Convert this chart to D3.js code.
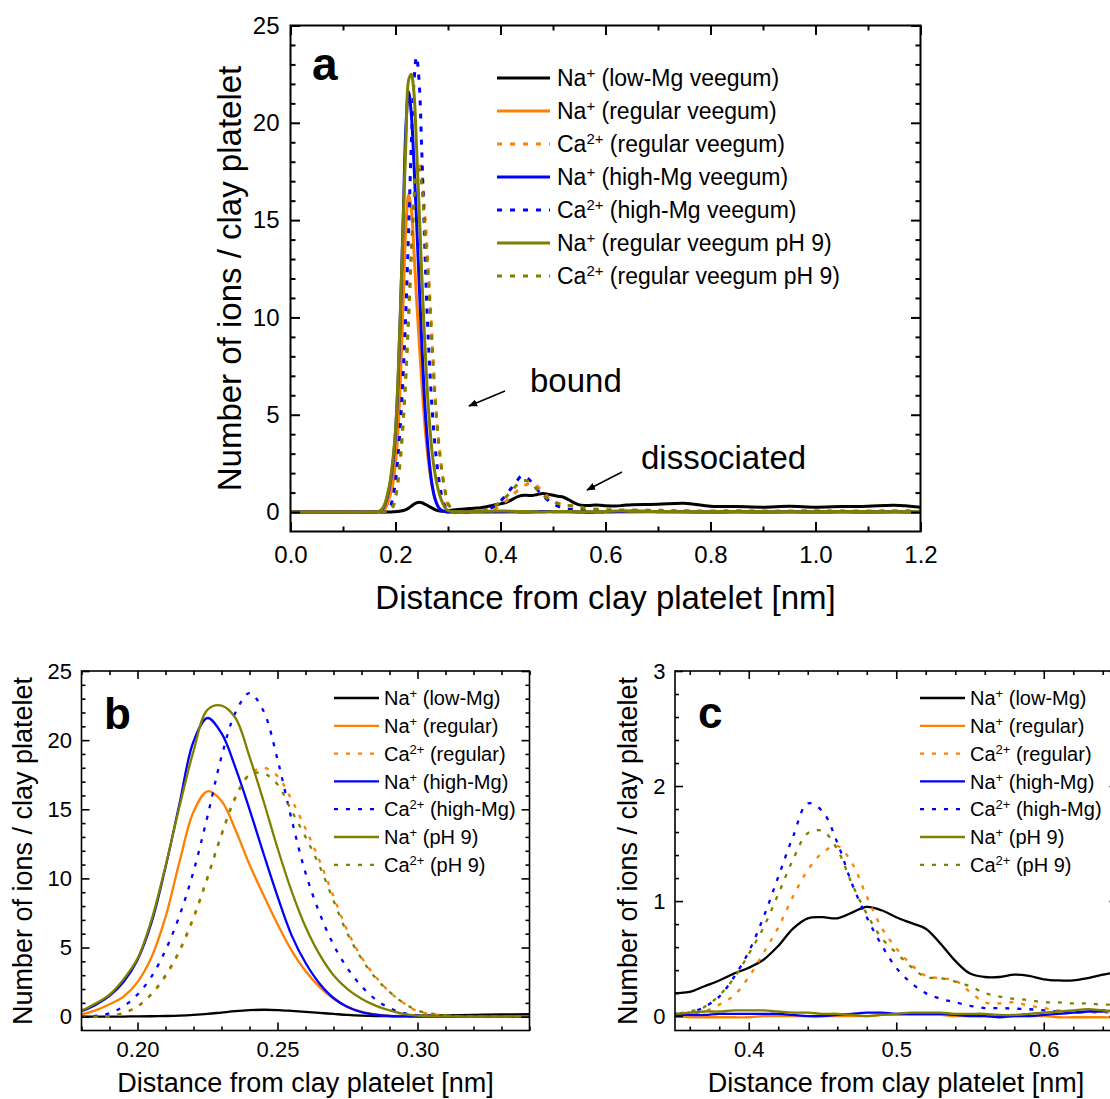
<!DOCTYPE html>
<html>
<head>
<meta charset="utf-8">
<script src="https://cdn.jsdelivr.net/npm/d3@7"></script>
<style>
  body { margin: 0; background: #fff; }
</style>
</head>
<body>
<svg id="chart" width="1110" height="1099"></svg>
<script>
// distance from clay platelet [nm]
const xs = [0, 0.05, 0.10, 0.15, 0.17, 0.175,
  0.18, 0.185, 0.19, 0.195, 0.20, 0.205, 0.21, 0.215, 0.22, 0.225, 0.23, 0.235, 0.24, 0.245,
  0.25, 0.255, 0.26, 0.265, 0.27, 0.275, 0.28, 0.285, 0.29, 0.295, 0.30,
  0.31, 0.32, 0.33, 0.34, 0.35, 0.36, 0.37, 0.38, 0.39, 0.40, 0.41, 0.42, 0.43, 0.44, 0.45,
  0.46, 0.47, 0.48, 0.49, 0.50, 0.51, 0.52, 0.53, 0.54, 0.55, 0.56, 0.57, 0.58, 0.59, 0.60,
  0.61, 0.62, 0.63, 0.64, 0.65,
  0.70, 0.75, 0.80, 0.85, 0.90, 0.95, 1.00, 1.05, 1.10, 1.15, 1.20];

// number of ions / clay platelet
const naLowMg = [0, 0, 0, 0, 0, 0,
  0, 0, 0, 0.01, 0.02, 0.03, 0.05, 0.08, 0.13, 0.2, 0.3, 0.4, 0.47, 0.5, 0.48, 0.42, 0.35, 0.27, 0.2, 0.13, 0.08, 0.05, 0.04, 0.05, 0.07,
  0.1, 0.13, 0.16, 0.18, 0.2, 0.21, 0.26, 0.31, 0.37, 0.42, 0.49, 0.61, 0.76, 0.85, 0.86, 0.85, 0.9, 0.95, 0.92, 0.86,
  0.81, 0.76, 0.63, 0.48, 0.37, 0.34, 0.34, 0.36, 0.35, 0.32, 0.31, 0.31, 0.33, 0.36, 0.38,
  0.4, 0.45, 0.3, 0.28, 0.25, 0.3, 0.25, 0.28, 0.3, 0.35, 0.25];
const naRegular = [0, 0, 0, 0, 0.02, 0.06,
  0.17, 0.45, 0.9, 1.45, 2.5, 4.3, 7.2, 11.2, 14.8, 16.3, 15.6, 13.5, 11.0, 8.8, 6.7, 4.8, 3.3, 2.15, 1.3, 0.72, 0.36, 0.16, 0.06, 0.02, 0,
  0, 0, 0, 0, 0, -0.01, -0.01, -0.01, -0.01, -0.01, 0, 0, 0, 0, 0, 0, 0, 0, 0.01, 0.01,
  0.01, 0.01, 0.01, 0, 0, 0, 0, 0, 0, 0, -0.01, -0.01, -0.01, -0.01, -0.01,
  0, 0, 0, 0, 0, 0, 0, 0, 0, 0, 0];
const caRegular = [0, 0, 0, 0, 0, 0,
  0, 0, 0.05, 0.25, 0.72, 1.6, 2.9, 4.7, 7.1, 10.0, 13.1, 15.8, 17.5, 18.0, 17.4, 15.7, 13.6, 11.3, 8.7, 6.2, 4.3, 2.9, 1.8, 1.0, 0.4,
  0.08, 0.01, 0, 0, 0, 0.01, 0.04, 0.1, 0.18, 0.34, 0.55, 0.77, 1.04, 1.27, 1.42, 1.48, 1.33, 1.04, 0.77, 0.59,
  0.45, 0.35, 0.33, 0.31, 0.21, 0.12, 0.11, 0.12, 0.09, 0.07, 0.05, 0.035, 0.03, 0.03, 0.03,
  0.04, 0.03, 0.02, 0.03, 0.02, 0.02, 0.03, 0.02, 0.02, 0.03, 0.02];
const naHighMg = [0, 0, 0, 0, 0.04, 0.15,
  0.4, 0.85, 1.5, 2.5, 4.1, 6.8, 10.8, 15.4, 19.9, 21.6, 20.5, 18.0, 15.0, 11.8, 8.7, 5.9, 3.9, 2.4, 1.35, 0.7, 0.33, 0.14, 0.05, 0.02, 0,
  0, 0, 0, 0.01, 0.01, 0.01, 0.01, 0.02, 0.02, 0.02, 0.02, 0.02, 0.01, 0, 0, 0.01, 0.02, 0.03, 0.03, 0.02,
  0.02, 0.02, 0.02, 0.01, 0, 0, -0.01, 0, 0, 0.01, 0.02, 0.03, 0.04, 0.04, 0.05,
  0.02, 0.01, 0, 0.01, 0, 0.01, 0, 0.01, 0, 0.01, 0];
const caHighMg = [0, 0, 0, 0, 0, 0,
  0, 0.05, 0.25, 0.75, 1.6, 2.9, 4.8, 7.3, 10.5, 14.5, 18.8, 22.0, 23.4, 22.1, 18.6, 14.3, 10.4, 7.5, 5.2, 3.5, 2.2, 1.25, 0.62, 0.27, 0.1,
  0.02, 0, 0, 0.01, 0.02, 0.03, 0.08, 0.17, 0.34, 0.56, 0.86, 1.21, 1.56, 1.85, 1.78, 1.51, 1.15, 0.86, 0.62, 0.42,
  0.29, 0.2, 0.15, 0.12, 0.09, 0.07, 0.07, 0.065, 0.06, 0.05, 0.04, 0.03, 0.04, 0.05, 0.06,
  0.05, 0.04, 0.03, 0.04, 0.03, 0.03, 0.04, 0.03, 0.03, 0.04, 0.03];
const naPH9 = [0, 0, 0, 0, 0.05, 0.18,
  0.45, 0.95, 1.6, 2.7, 4.2, 7.0, 10.9, 15.2, 19.2, 22.2, 22.5, 21.6, 18.8, 15.6, 12.2, 9.1, 6.5, 4.5, 3.0, 2.0, 1.3, 0.8, 0.45, 0.2, 0.08,
  0.02, 0.01, 0.01, 0.02, 0.02, 0.03, 0.04, 0.04, 0.05, 0.05, 0.05, 0.04, 0.03, 0.03, 0.02, 0.02, 0.01, 0, 0.01, 0.02,
  0.03, 0.03, 0.03, 0.02, 0.02, 0.02, 0.01, 0.01, 0.02, 0.03, 0.04, 0.05, 0.06, 0.05, 0.04,
  0.03, 0.02, 0.02, 0.03, 0.02, 0.02, 0.02, 0.03, 0.02, 0.02, 0.02];
const caPH9 = [0, 0, 0, 0, 0, 0,
  0, 0, 0.06, 0.28, 0.75, 1.65, 3.0, 4.8, 7.2, 10.1, 13.2, 15.9, 17.5, 17.6, 16.8, 14.9, 13.0, 10.9, 8.4, 6.0, 4.2, 2.8, 1.8, 1.0, 0.45,
  0.1, 0.02, 0.01, 0.01, 0.02, 0.04, 0.08, 0.18, 0.33, 0.54, 0.77, 1.06, 1.36, 1.59, 1.61, 1.45, 1.15, 0.89, 0.68, 0.55,
  0.43, 0.34, 0.33, 0.3, 0.26, 0.2, 0.17, 0.15, 0.14, 0.12, 0.12, 0.11, 0.11, 0.1, 0.1,
  0.09, 0.06, 0.05, 0.06, 0.05, 0.05, 0.05, 0.06, 0.05, 0.05, 0.05];

// legend labels
const ions = ["Na", "Na", "Ca", "Na", "Ca", "Na", "Ca"];
const charges = ["+", "+", "2+", "+", "2+", "+", "2+"];
const longNames = ["low-Mg veegum", "regular veegum", "regular veegum", "high-Mg veegum",
  "high-Mg veegum", "regular veegum pH 9", "regular veegum pH 9"];
const shortNames = ["low-Mg", "regular", "regular", "high-Mg", "high-Mg", "pH 9", "pH 9"];

// tick labels
const xTicksA = [0, 0.2, 0.4, 0.6, 0.8, 1.0, 1.2];
const yTicksA = [0, 5, 10, 15, 20, 25];
const xTicksB = [0.20, 0.25, 0.30];
const yTicksB = [0, 5, 10, 15, 20, 25];
const xTicksC = [0.4, 0.5, 0.6];
const yTicksC = [0, 1, 2, 3];

const allValues = [naLowMg, naRegular, caRegular, naHighMg, caHighMg, naPH9, caPH9];
const colors = ["#000000", "#ff8000", "#ff8000", "#0000ff", "#0000ff", "#808000", "#808000"];
const dotted = [false, false, true, false, true, false, true];

const FONT = '"Liberation Sans", Arial, Helvetica, sans-serif';
const svg = d3.select("#chart");
svg.append("rect").attr("width", 1110).attr("height", 1099).attr("fill", "#fff");

const defs = svg.append("defs");
defs.append("marker")
  .attr("id", "arrow")
  .attr("viewBox", "0 0 10 10")
  .attr("refX", 9).attr("refY", 5)
  .attr("markerWidth", 9).attr("markerHeight", 9)
  .attr("markerUnits", "userSpaceOnUse")
  .attr("orient", "auto")
  .append("path")
  .attr("d", "M0,1 L10,5 L0,9 Z")
  .attr("fill", "#000");

const notIn = (list) => (v) => !list.some((m) => Math.abs(m - v) < 1e-6);

function drawPanel(p) {
  const g = svg.append("g");
  const x = d3.scaleLinear().domain(p.xDomain).range([p.left, p.right]);
  const y = d3.scaleLinear().domain(p.yDomain).range([p.bottom, p.top]);

  defs.append("clipPath").attr("id", "clip-" + p.name)
    .append("rect")
    .attr("x", p.left).attr("y", p.top)
    .attr("width", p.right - p.left).attr("height", p.bottom - p.top);

  // curves
  const line = d3.line()
    .x((d) => x(d[0]))
    .y((d) => y(d[1]))
    .curve(d3.curveCatmullRom.alpha(0.5));
  const curves = g.append("g").attr("clip-path", `url(#clip-${p.name})`);
  allValues.forEach((vals, i) => {
    curves.append("path")
      .datum(xs.map((v, j) => [v, vals[j]]))
      .attr("d", line)
      .attr("fill", "none")
      .attr("stroke", colors[i])
      .attr("stroke-width", p.lineWidth)
      .attr("stroke-dasharray", dotted[i] ? p.dash : null);
  });

  // axes, ticks pointing inward
  const addAxis = (axis, transform) => {
    const a = g.append("g")
      .attr("transform", transform)
      .call(axis)
      .attr("font-family", FONT)
      .attr("font-size", p.tickFont);
    a.select(".domain").remove();
    a.selectAll("line").attr("stroke", "#000").attr("stroke-width", p.frameWidth);
    a.selectAll("text").attr("fill", "#000");
  };
  const xMinor = p.xMinor.filter(notIn(p.xMajor));
  const yMinor = p.yMinor.filter(notIn(p.yMajor));

  addAxis(d3.axisBottom(x).tickValues(p.xMajor).tickSize(-p.major)
    .tickPadding(p.xPad).tickFormat(d3.format(p.xFormat)), `translate(0,${p.bottom})`);
  addAxis(d3.axisBottom(x).tickValues(xMinor).tickSize(-p.minor).tickFormat(""),
    `translate(0,${p.bottom})`);
  addAxis(d3.axisLeft(y).tickValues(p.yMajor).tickSize(-p.major)
    .tickPadding(p.yPad).tickFormat(d3.format("d")), `translate(${p.left},0)`);
  addAxis(d3.axisLeft(y).tickValues(yMinor).tickSize(-p.minor).tickFormat(""),
    `translate(${p.left},0)`);
  addAxis(d3.axisTop(x).tickValues(p.xMajor).tickSize(-p.major).tickFormat(""),
    `translate(0,${p.top})`);
  addAxis(d3.axisTop(x).tickValues(xMinor).tickSize(-p.minor).tickFormat(""),
    `translate(0,${p.top})`);
  addAxis(d3.axisRight(y).tickValues(p.yMajor).tickSize(-p.major).tickFormat(""),
    `translate(${p.right},0)`);
  addAxis(d3.axisRight(y).tickValues(yMinor).tickSize(-p.minor).tickFormat(""),
    `translate(${p.right},0)`);

  g.append("rect")
    .attr("x", p.left).attr("y", p.top)
    .attr("width", p.right - p.left).attr("height", p.bottom - p.top)
    .attr("fill", "none").attr("stroke", "#000").attr("stroke-width", p.frameWidth);

  // axis titles
  g.append("text")
    .attr("x", p.xTitle[0]).attr("y", p.xTitle[1])
    .attr("text-anchor", "middle")
    .attr("font-family", FONT).attr("font-size", p.titleFont)
    .text("Distance from clay platelet [nm]");
  g.append("text")
    .attr("transform", `translate(${p.yTitle[0]},${p.yTitle[1]}) rotate(-90)`)
    .attr("text-anchor", "middle")
    .attr("font-family", FONT).attr("font-size", p.titleFont)
    .text("Number of ions / clay platelet");

  // panel letter
  g.append("text")
    .attr("x", p.letter[0]).attr("y", p.letter[1])
    .attr("font-family", FONT).attr("font-weight", "bold")
    .attr("font-size", p.letterFont)
    .text(p.name);

  // legend
  const lg = g.append("g");
  p.names.forEach((name, i) => {
    const yy = p.legend.y0 + i * p.legend.dy;
    lg.append("line")
      .attr("x1", p.legend.x1).attr("x2", p.legend.x2)
      .attr("y1", yy).attr("y2", yy)
      .attr("stroke", colors[i])
      .attr("stroke-width", p.lineWidth)
      .attr("stroke-dasharray", dotted[i] ? p.dash : null);
    const t = lg.append("text")
      .attr("x", p.legend.tx).attr("y", yy + p.legend.font * 0.36)
      .attr("font-family", FONT).attr("font-size", p.legend.font);
    t.append("tspan").text(ions[i]);
    t.append("tspan").attr("baseline-shift", "super").attr("font-size", "65%").text(charges[i]);
    t.append("tspan").text(" (" + name + ")");
  });
  return { g, x, y };
}

const panelA = drawPanel({
  name: "a", left: 290.5, right: 920.5, top: 25.5, bottom: 531.5,
  xDomain: [0, 1.2], yDomain: [-1, 25],
  xMajor: xTicksA, xMinor: d3.range(0.1, 1.2, 0.2),
  yMajor: yTicksA, yMinor: d3.range(1, 25, 1),
  xFormat: ".1f", tickFont: 24, titleFont: 33, letterFont: 46,
  major: 9.5, minor: 5, frameWidth: 2, lineWidth: 3, dash: "5,8",
  xPad: 14, yPad: 11,
  xTitle: [605.5, 609], yTitle: [241, 278.5], letter: [312, 80],
  names: longNames,
  legend: { x1: 497, x2: 550, tx: 557, y0: 78, dy: 33, font: 23 }
});

// annotations in panel a
panelA.g.append("text").attr("x", 530).attr("y", 392)
  .attr("font-family", FONT).attr("font-size", 33).text("bound");
panelA.g.append("line").attr("x1", 505).attr("y1", 391).attr("x2", 469).attr("y2", 406)
  .attr("stroke", "#000").attr("stroke-width", 1.5).attr("marker-end", "url(#arrow)");
panelA.g.append("text").attr("x", 641).attr("y", 469)
  .attr("font-family", FONT).attr("font-size", 33).text("dissociated");
panelA.g.append("line").attr("x1", 622).attr("y1", 472).attr("x2", 587).attr("y2", 490)
  .attr("stroke", "#000").attr("stroke-width", 1.5).attr("marker-end", "url(#arrow)");

drawPanel({
  name: "b", left: 81.5, right: 529.5, top: 671, bottom: 1030.5,
  xDomain: [0.18, 0.34], yDomain: [-1, 25],
  xMajor: xTicksB, xMinor: d3.range(0.18, 0.345, 0.01),
  yMajor: yTicksB, yMinor: d3.range(1, 25, 1),
  xFormat: ".2f", tickFont: 22, titleFont: 27, letterFont: 44,
  major: 8, minor: 4, frameWidth: 1.6, lineWidth: 2.3, dash: "4,8",
  xPad: 10.5, yPad: 9.5,
  xTitle: [305.5, 1092], yTitle: [32, 851], letter: [104, 729],
  names: shortNames,
  legend: { x1: 334, x2: 379, tx: 384, y0: 698, dy: 27.8, font: 20 }
});

drawPanel({
  name: "c", left: 675, right: 1117.5, top: 671, bottom: 1030.5,
  xDomain: [0.35, 0.65], yDomain: [-0.125, 3],
  xMajor: xTicksC, xMinor: d3.range(0.36, 0.65, 0.02),
  yMajor: yTicksC, yMinor: d3.range(0.2, 3, 0.2),
  xFormat: ".1f", tickFont: 22, titleFont: 27, letterFont: 44,
  major: 8, minor: 4, frameWidth: 1.6, lineWidth: 2.3, dash: "4,8",
  xPad: 10.5, yPad: 9.5,
  xTitle: [896, 1092], yTitle: [637, 851], letter: [698, 728],
  names: shortNames,
  legend: { x1: 920, x2: 965, tx: 970, y0: 698, dy: 27.8, font: 20 }
});
</script>
</body>
</html>
